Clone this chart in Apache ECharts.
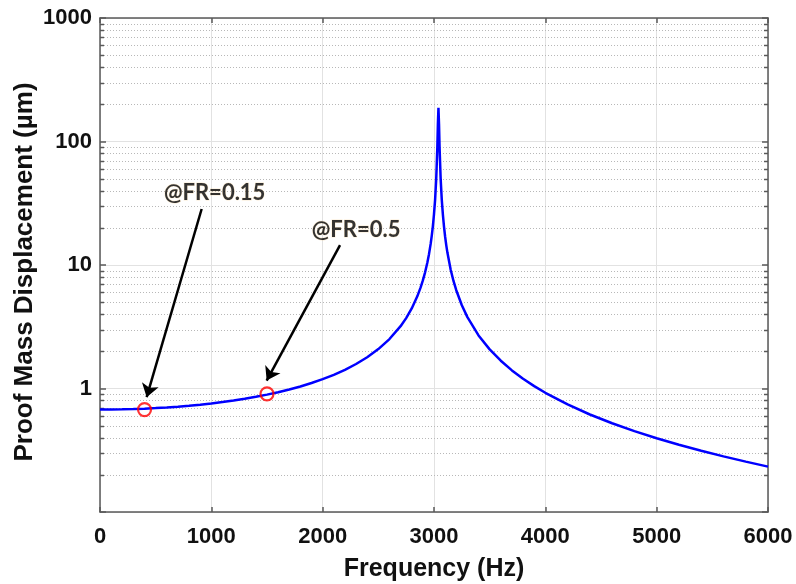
<!DOCTYPE html>
<html>
<head>
<meta charset="utf-8">
<script src="https://cdn.jsdelivr.net/npm/echarts@6/dist/echarts.min.js"></script>
<style>
html,body{margin:0;padding:0;background:#fff;}
#chart{width:796px;height:584px;}
</style>
</head>
<body>
<div id="chart"></div>
<script>
// ---- data ----
const freqHz = [0, 100, 200, 300, 400, 500, 600, 700, 800, 900, 1000, 1100, 1200, 1300, 1400, 1500, 1600, 1700, 1800, 1900, 2000, 2100, 2200, 2300, 2400, 2500, 2600, 2700, 2750, 2800, 2850, 2880, 2900, 2920, 2940, 2955, 2970, 2980, 2990, 3000, 3010, 3020, 3030, 3035, 3040, 3045, 3050, 3060, 3070, 3080, 3090, 3100, 3110, 3120, 3150, 3175, 3200, 3250, 3300, 3400, 3500, 3600, 3700, 3800, 3900, 4000, 4200, 4400, 4600, 4800, 5000, 5200, 5400, 5600, 5800, 6000];
const dispUm = [0.675, 0.676, 0.678, 0.682, 0.687, 0.694, 0.702, 0.713, 0.725, 0.740, 0.757, 0.777, 0.800, 0.826, 0.857, 0.892, 0.934, 0.982, 1.039, 1.108, 1.190, 1.291, 1.417, 1.579, 1.792, 2.085, 2.514, 3.196, 3.715, 4.451, 5.574, 6.586, 7.501, 8.722, 10.43, 12.24, 14.82, 17.27, 20.68, 25.82, 33.8, 49.7, 90.1, 138.6, 187.5, 138.5, 89.7, 49.3, 33.5, 25.5, 20.35, 16.93, 14.49, 12.66, 9.16, 7.43, 6.248, 4.723, 3.784, 2.691, 2.074, 1.678, 1.402, 1.200, 1.045, 0.923, 0.743, 0.616, 0.523, 0.452, 0.396, 0.3505, 0.3132, 0.2820, 0.2557, 0.2331];

const markerFreq = [400, 1500];
const markerDisp = [0.675, 0.905];

const annotText = ['@FR=0.15', '@FR=0.5'];
const annotFreq = [1030, 2300];
const annotDisp = [38.5, 19.4];

const arrowStartFreq = [913, 2156];
const arrowStartDisp = [28.4, 14.5];
const arrowEndFreq = [419, 1497];
const arrowEndDisp = [0.85, 1.16];

const xTicks = [0, 1000, 2000, 3000, 4000, 5000, 6000];
const yTickLabels = ['1', '10', '100', '1000'];
const yMinorValues = [0.2, 0.3, 0.4, 0.5, 0.6, 0.7, 0.8, 0.9, 2, 3, 4, 5, 6, 7, 8, 9, 20, 30, 40, 50, 60, 70, 80, 90, 200, 300, 400, 500, 600, 700, 800, 900];

const xMin = xTicks[0], xMax = xTicks[xTicks.length - 1];
const yMin = 0.1, yMax = 1000;

const axisColor = '#595959';
const tickFont = {fontFamily: 'Liberation Sans, Arial, sans-serif', fontWeight: 'bold', fontSize: 22, color: '#111'};

const chart = echarts.init(document.getElementById('chart'), null, {renderer: 'canvas'});

const curve = freqHz.map((f, i) => [f, dispUm[i]]);
const markers = markerFreq.map((f, i) => [f, markerDisp[i]]);
const annots = annotFreq.map((f, i) => ({value: [f, annotDisp[i]], name: annotText[i]}));
const arrows = arrowStartFreq.map((f, i) => ({coords: [[f, arrowStartDisp[i]], [arrowEndFreq[i], arrowEndDisp[i]]]}));

chart.setOption({
  animation: false,
  backgroundColor: '#fff',
  grid: {left: 100, right: 28, top: 18, bottom: 72, containLabel: false, outerBoundsMode: 'none'},
  xAxis: [{
    type: 'value', min: xMin, max: xMax, interval: 1000, position: 'bottom',
    name: 'Frequency (Hz)', nameLocation: 'middle', nameGap: 45, nameMoveOverlap: false,
    nameTextStyle: {fontFamily: 'Liberation Sans, Arial, sans-serif', fontWeight: 'bold', fontSize: 25, color: '#111'},
    axisLine: {show: true, onZero: false, lineStyle: {color: axisColor, width: 1.5}},
    axisTick: {show: true, inside: true, length: 5, lineStyle: {color: axisColor, width: 1.5}},
    axisLabel: Object.assign({margin: 14, formatter: v => String(v)}, tickFont),
    splitLine: {show: true, lineStyle: {color: '#e2e2e2', width: 1}}
  }, {
    type: 'value', min: xMin, max: xMax, interval: 1000, position: 'top',
    axisLine: {show: true, onZero: false, lineStyle: {color: axisColor, width: 1.5}},
    axisTick: {show: true, inside: true, length: 5, lineStyle: {color: axisColor, width: 1.5}},
    axisLabel: {show: false},
    splitLine: {show: false}
  }],
  yAxis: [{
    type: 'log', logBase: 10, min: yMin, max: yMax, position: 'left',
    name: 'Proof Mass Displacement (µm)', nameLocation: 'middle', nameGap: 62, nameRotate: 90, nameMoveOverlap: false,
    nameTextStyle: {fontFamily: 'Liberation Sans, Arial, sans-serif', fontWeight: 'bold', fontSize: 26, color: '#111', padding: [0, 14, 0, 0]},
    axisLine: {show: true, onZero: false, lineStyle: {color: axisColor, width: 1.5}},
    axisTick: {show: true, inside: true, length: 6, lineStyle: {color: axisColor, width: 1.5}},
    axisLabel: Object.assign({margin: 8, formatter: function (v) {
      const s = String(Math.round(v));
      return (v >= 1 && yTickLabels.indexOf(s) >= 0) ? s : '';
    }}, tickFont),
    splitLine: {show: true, lineStyle: {color: '#e2e2e2', width: 1}}
  }, {
    type: 'log', logBase: 10, min: yMin, max: yMax, position: 'right',
    axisLine: {show: true, onZero: false, lineStyle: {color: axisColor, width: 1.5}},
    axisTick: {show: true, inside: true, length: 6, lineStyle: {color: axisColor, width: 1.5}},
    axisLabel: {show: false},
    splitLine: {show: false}
  }],
  series: [{
    type: 'custom',
    coordinateSystem: 'cartesian2d',
    xAxisIndex: 0, yAxisIndex: 0,
    silent: true, z: 1,
    data: yMinorValues.map(v => [xMin, v]),
    renderItem: function (params, api) {
      const v = api.value(1);
      const p0 = api.coord([xMin, v]);
      const p1 = api.coord([xMax, v]);
      const y = Math.round(p0[1]) + 0.5;
      return {
        type: 'group',
        children: [
          {type: 'line', shape: {x1: p0[0] + 1, y1: y, x2: p1[0] - 1, y2: y}, style: {stroke: '#b8b8b8', lineWidth: 1, lineDash: [1, 2]}},
          {type: 'line', shape: {x1: p0[0], y1: y, x2: p0[0] + 4, y2: y}, style: {stroke: axisColor, lineWidth: 1.5}},
          {type: 'line', shape: {x1: p1[0], y1: y, x2: p1[0] - 4, y2: y}, style: {stroke: axisColor, lineWidth: 1.5}}
        ]
      };
    }
  }, {
    type: 'line',
    data: curve,
    showSymbol: false,
    symbol: 'none',
    lineStyle: {color: '#0000ff', width: 2.5},
    z: 3
  }, {
    type: 'scatter',
    data: markers,
    symbol: 'circle',
    symbolSize: 13,
    itemStyle: {color: 'rgba(0,0,0,0)', borderColor: '#ff0000', borderWidth: 2.2},
    z: 4
  }, {
    type: 'lines',
    coordinateSystem: 'cartesian2d',
    data: arrows,
    symbol: ['none', 'arrow'],
    symbolSize: [0, 13],
    lineStyle: {color: '#000', width: 2.5, opacity: 1},
    z: 5
  }, {
    type: 'scatter',
    data: annots,
    symbolSize: 0,
    label: {
      show: true, position: 'inside',
      formatter: p => p.name,
      fontFamily: 'Lato, Open Sans, sans-serif', fontWeight: 'bold', fontSize: 22, color: '#000',
      textBorderColor: 'rgba(240,175,80,0.3)', textBorderWidth: 1
    },
    z: 6
  }]
});
</script>
</body>
</html>
